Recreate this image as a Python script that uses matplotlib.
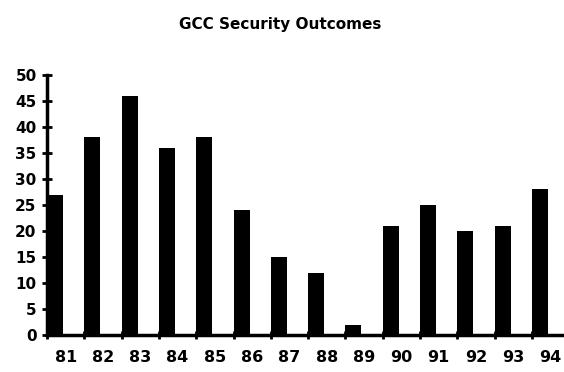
import matplotlib
matplotlib.use("Agg")
import matplotlib.pyplot as plt
import numpy as np

years = ["81", "82", "83", "84", "85", "86", "87", "88", "89", "90", "91", "92", "93", "94"]
outcomes = [27, 38, 46, 36, 38, 24, 15, 12, 2, 21, 25, 20, 21, 28]
y_ticks = [0, 5, 10, 15, 20, 25, 30, 35, 40, 45, 50]

plt.rcParams["font.family"] = "DejaVu Sans"
plt.rcParams["font.weight"] = "bold"

W, H = 564, 372
fig = plt.figure(figsize=(W / 100, H / 100), dpi=100)
ax = fig.add_axes([47 / W, 1 - 335 / H, (W - 47) / W, (335 - 75) / H])

x = np.arange(len(years))
ax.bar(x, outcomes, width=0.43, align="edge", color="black")

ax.set_xlim(0, 13.86)
ax.set_ylim(0, 50)

ax.set_yticks(y_ticks)
ax.set_yticklabels([str(v) for v in y_ticks], fontsize=11, fontweight="bold")

# tick marks sit at the category edges, labels in the middle of each slot
ax.set_xticks(x, minor=True)
ax.set_xticks(x + 0.5)
ax.set_xticklabels(years, fontsize=11.5, fontweight="bold")
ax.tick_params(axis="x", which="major", length=0, pad=11)
ax.tick_params(axis="x", which="minor", direction="inout", length=6, width=2)
ax.tick_params(axis="y", direction="inout", length=7, width=2, pad=4)

for side in ("top", "right"):
    ax.spines[side].set_visible(False)
ax.spines["left"].set_linewidth(2.5)
ax.spines["bottom"].set_linewidth(2.5)

fig.text(280 / W, 1 - 24 / H, "GCC Security Outcomes", ha="center", va="center",
         fontsize=11, fontweight="bold")

fig.savefig("out.png", dpi=100)
